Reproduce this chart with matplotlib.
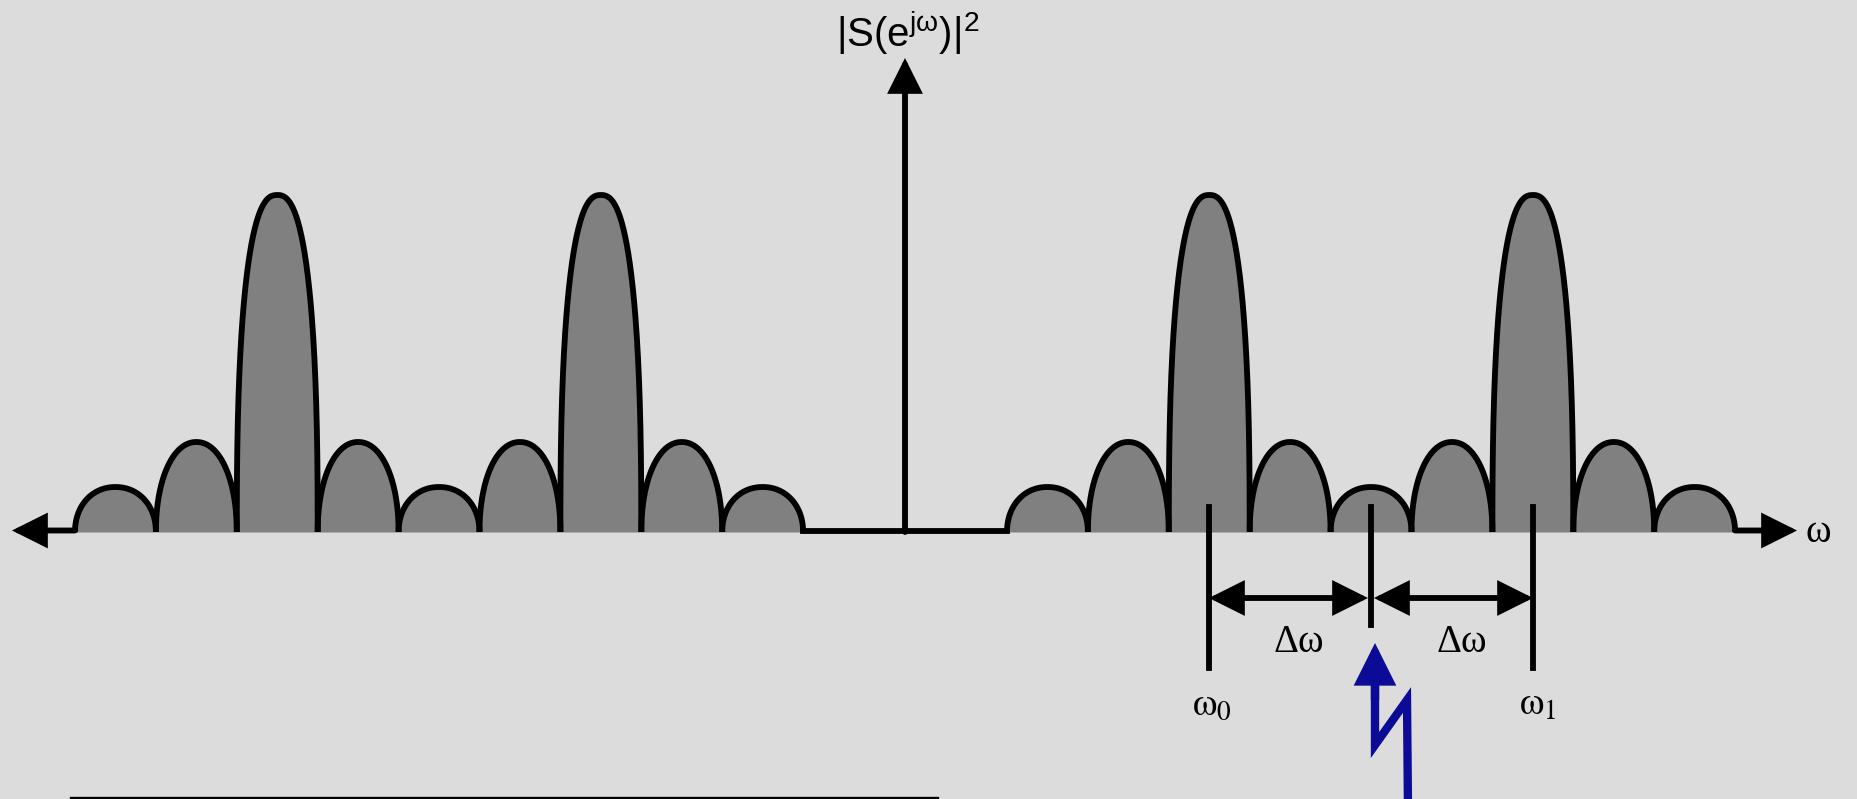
import numpy as np
import matplotlib.pyplot as plt
from matplotlib.patches import FancyArrowPatch

plt.rcParams['mathtext.fontset'] = 'custom'
plt.rcParams['mathtext.rm'] = 'Liberation Sans'
plt.rcParams['mathtext.it'] = 'Liberation Sans:italic'

# layout in pixel units, baseline of the spectrum at y = 0
lobe_width = 80.9
group_starts = [75, 1007]                      # left edge of each group of lobes
lobe_heights = [45, 90, 337, 90, 45, 90, 337, 90, 45]
axis_x = 905                                   # vertical axis position
axis_left_tip = 12
axis_right_tip = 1797
axis_top_tip = 474

omega_0 = 1209
omega_1 = 1533
omega_mid = 1371
dim_y = -66

bg = '#dcdcdc'
lobe_gray = '#808080'
blue = '#0b0b98'
lw = 4.2


def lobe(ax, left, width, height):
    # superellipse-shaped lobe sitting on the baseline
    n = 2.5 if height > 200 else 2.1
    t = np.linspace(0, np.pi, 300)
    c = np.cos(t)
    s = np.sin(t)
    x = left + width / 2 + width / 2 * np.sign(c) * np.abs(c) ** (2 / n)
    y = height * np.abs(s) ** (2 / n)
    ax.fill_between(x, 0, y, color=lobe_gray, lw=0, zorder=1)
    ax.plot(x, y, color='black', lw=lw, solid_capstyle='butt', zorder=2)


def arrow(ax, p0, p1, style='-|>', color='black', width=lw, hl=19, hw=9.5):
    a = FancyArrowPatch(p0, p1, arrowstyle=f'{style},head_length={hl},head_width={hw}',
                        mutation_scale=1, color=color, lw=width,
                        shrinkA=0, shrinkB=0, joinstyle='miter', zorder=3)
    ax.add_patch(a)


fig = plt.figure(figsize=(18.57, 7.99), dpi=100)
fig.patch.set_facecolor(bg)
ax = fig.add_axes([0, 0, 1, 1])
ax.set_xlim(0, 1857)
ax.set_ylim(532 - 799, 532)
ax.axis('off')

# spectrum lobes
for start in group_starts:
    for i, h in enumerate(lobe_heights):
        lobe(ax, start + i * lobe_width, lobe_width, h)

group_len = lobe_width * len(lobe_heights)

# frequency axis
arrow(ax, (group_starts[0], 1.5), (axis_left_tip, 1.5))
arrow(ax, (group_starts[1] + group_len, 1.5), (axis_right_tip, 1.5))
ax.plot([group_starts[0] + group_len, group_starts[1]], [1.5, 1.5], color='black', lw=lw, zorder=2)
arrow(ax, (axis_x, 0), (axis_x, axis_top_tip))

ax.text(1818, 0, 'ω', fontfamily='Liberation Serif', fontsize=28, ha='center', va='center')
ax.text(836, 485, r'$\mathrm{|S(e^{j\omega})|^2}$', math_fontfamily='custom',
        fontsize=29, ha='left', va='baseline')

# markers for omega_0, omega_1 and the midpoint
ax.plot([omega_0, omega_0], [25, -136], color='black', lw=lw, zorder=3)
ax.plot([omega_1, omega_1], [25, -136], color='black', lw=lw, zorder=3)
ax.plot([omega_mid, omega_mid], [25, -93], color='black', lw=lw, zorder=3)

arrow(ax, (omega_0, dim_y), (omega_mid - 3, dim_y), style='<|-|>')
arrow(ax, (omega_mid + 3, dim_y), (omega_1, dim_y), style='<|-|>')

ax.text((omega_0 + omega_mid) / 2 + 9, -111, 'Δω', fontfamily='Liberation Serif',
        fontsize=28, ha='center', va='center')
ax.text((omega_mid + omega_1) / 2 + 10, -111, 'Δω', fontfamily='Liberation Serif',
        fontsize=28, ha='center', va='center')
ax.text(omega_0 + 3, -172, r'$\mathrm{\omega}_0$', math_fontfamily='stix',
        fontsize=28, ha='center', va='center')
ax.text(omega_1 + 5, -172, r'$\mathrm{\omega}_1$', math_fontfamily='stix',
        fontsize=28, ha='center', va='center')

# hand-drawn blue pointer
ax.plot([1408, 1407, 1375, 1375], [532 - 810, 532 - 700, 532 - 745, 532 - 690],
        color=blue, lw=6, solid_joinstyle='miter', zorder=3)
arrow(ax, (1375, 532 - 700), (1375, 532 - 643), color=blue, width=6, hl=21, hw=10.5)

# line at the bottom edge
ax.plot([71, 937], [-266, -266], color='black', lw=2.4)

fig.savefig('out.png', dpi=100, facecolor=fig.get_facecolor())
